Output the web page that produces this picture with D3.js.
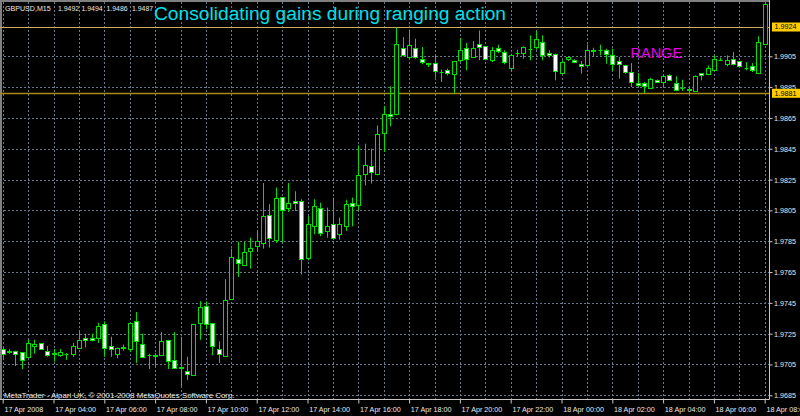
<!DOCTYPE html>
<html><head><meta charset="utf-8">
<script src="https://cdn.jsdelivr.net/npm/d3@7/dist/d3.min.js"></script>
<style>body{margin:0;background:#000;overflow:hidden}svg{display:block}</style>
</head><body>
<svg id="c" width="800" height="416"></svg>
<script>
// M15 bars, 17 Apr 2008 02:00 .. 18 Apr 2008 08:00
const opens=[1.97151,1.97140,1.97140,1.97130,1.97100,1.97170,1.97190,1.97140,1.97120,1.97110,1.97120,1.97120,1.97160,1.97225,1.97225,1.97225,1.97310,1.97170,1.97120,1.97160,1.97150,1.97330,1.97180,1.97110,1.97110,1.97110,1.97210,1.97080,1.97030,1.97010,1.96980,1.97320,1.97430,1.97320,1.97150,1.97108,1.97478,1.97737,1.97694,1.97787,1.97819,1.97839,1.98020,1.97860,1.98137,1.98068,1.98111,1.98109,1.97744,1.97947,1.98068,1.97917,1.97960,1.97895,1.97947,1.98100,1.98085,1.98284,1.98336,1.98288,1.98553,1.98678,1.98678,1.99104,1.99045,1.99104,1.99034,1.99006,1.99006,1.98948,1.98959,1.98937,1.99024,1.99104,1.99045,1.99127,1.99114,1.99024,1.99104,1.99078,1.98974,1.99071,1.99071,1.99100,1.99110,1.99143,1.99071,1.99067,1.98941,1.99030,1.99028,1.98998,1.98991,1.99089,1.99090,1.99089,1.99056,1.99017,1.98995,1.98948,1.98877,1.98877,1.98846,1.98898,1.98883,1.98926,1.98877,1.98846,1.98835,1.98825,1.98941,1.98937,1.98963,1.99028,1.99002,1.99034,1.99017,1.98976,1.98985,1.98941,1.99132];
const highs=[1.97164,1.97150,1.97140,1.97130,1.97210,1.97210,1.97190,1.97170,1.97150,1.97150,1.97125,1.97190,1.97270,1.97250,1.97250,1.97320,1.97330,1.97230,1.97160,1.97180,1.97320,1.97390,1.97250,1.97120,1.97125,1.97260,1.97210,1.97260,1.97230,1.97100,1.97310,1.97460,1.97460,1.97320,1.97200,1.97603,1.97802,1.97845,1.97845,1.97873,1.97921,1.98228,1.98090,1.98198,1.98137,1.98228,1.98174,1.98122,1.98012,1.98122,1.98100,1.98068,1.98133,1.98003,1.98120,1.98133,1.98472,1.98483,1.98451,1.98602,1.98728,1.98855,1.99236,1.99175,1.99223,1.99164,1.99110,1.99006,1.99056,1.98963,1.98970,1.99017,1.99169,1.99136,1.99149,1.99218,1.99114,1.99110,1.99125,1.99089,1.99067,1.99093,1.99114,1.99186,1.99214,1.99186,1.99089,1.99067,1.99024,1.99045,1.99030,1.99019,1.99127,1.99106,1.99125,1.99099,1.99099,1.99045,1.98995,1.99006,1.98941,1.98883,1.98911,1.98900,1.98933,1.98933,1.98920,1.98898,1.98846,1.98926,1.98941,1.98991,1.99056,1.99041,1.99056,1.99078,1.99017,1.99013,1.99006,1.99180,1.99391];
const lows=[1.97078,1.97120,1.97040,1.97020,1.97100,1.97120,1.97150,1.97100,1.97070,1.97100,1.97080,1.97100,1.97160,1.97160,1.97200,1.97190,1.97100,1.97100,1.97090,1.97140,1.97130,1.97060,1.97100,1.97020,1.97040,1.97110,1.97020,1.97020,1.96910,1.96950,1.96980,1.97210,1.97280,1.97110,1.97060,1.97108,1.97478,1.97618,1.97690,1.97672,1.97780,1.97802,1.97808,1.97839,1.97839,1.98040,1.98046,1.97635,1.97726,1.97895,1.97882,1.97873,1.97873,1.97860,1.97917,1.97947,1.98051,1.98213,1.98224,1.98278,1.98429,1.98596,1.98667,1.99050,1.99041,1.99034,1.98998,1.98980,1.98911,1.98883,1.98926,1.98812,1.99013,1.98959,1.99041,1.99024,1.99024,1.99013,1.99071,1.98998,1.98948,1.99050,1.99034,1.99024,1.99093,1.99024,1.99041,1.98894,1.98937,1.99020,1.99010,1.98937,1.98985,1.99050,1.99056,1.99002,1.98954,1.98905,1.98937,1.98851,1.98855,1.98812,1.98840,1.98880,1.98851,1.98890,1.98825,1.98825,1.98803,1.98825,1.98894,1.98933,1.98959,1.99024,1.98985,1.98991,1.98980,1.98959,1.98948,1.98941,1.99127];
const closes=[1.97121,1.97130,1.97120,1.97080,1.97190,1.97180,1.97150,1.97110,1.97125,1.97130,1.97120,1.97170,1.97210,1.97210,1.97210,1.97300,1.97160,1.97150,1.97160,1.97162,1.97320,1.97200,1.97100,1.97110,1.97105,1.97200,1.97070,1.97030,1.97035,1.96990,1.97310,1.97420,1.97310,1.97170,1.97120,1.97471,1.97748,1.97709,1.97780,1.97808,1.97852,1.98012,1.97871,1.98129,1.98055,1.98100,1.98098,1.97737,1.97960,1.98079,1.97904,1.97947,1.97873,1.97960,1.98090,1.98077,1.98279,1.98347,1.98299,1.98548,1.98678,1.98665,1.99127,1.99056,1.99125,1.99045,1.99013,1.98998,1.98954,1.98946,1.98941,1.99017,1.99093,1.99034,1.99104,1.99110,1.99034,1.99093,1.99084,1.99013,1.99056,1.99070,1.99110,1.99099,1.99164,1.99056,1.99056,1.98954,1.99013,1.99045,1.99013,1.98985,1.99093,1.99084,1.99089,1.99063,1.99002,1.99002,1.98948,1.98883,1.98861,1.98855,1.98905,1.98885,1.98920,1.98894,1.98833,1.98843,1.98833,1.98920,1.98926,1.98976,1.99034,1.99028,1.99028,1.99002,1.98985,1.98974,1.98963,1.99143,1.99387];
const timeLabels=["17 Apr 2008","17 Apr 04:00","17 Apr 06:00","17 Apr 08:00","17 Apr 10:00","17 Apr 12:00","17 Apr 14:00","17 Apr 16:00","17 Apr 18:00","17 Apr 20:00","17 Apr 22:00","18 Apr 00:00","18 Apr 02:00","18 Apr 04:00","18 Apr 06:00","18 Apr 08:00"];
const timeLabelBars=[0,8,16,24,32,40,48,56,64,72,80,88,96,104,112,120];
const priceTicks=[1.9685,1.9705,1.9725,1.9745,1.9765,1.9785,1.9805,1.9825,1.9845,1.9865,1.9885,1.9905];
const levelLines=[1.9924,1.9881];
const headerTexts=["GBPUSD,M15","1.9492","1.9494","1.9486","1.9487"];
const titleText="Consolidating gains during ranging action";
const rangeText="RANGE";
const footerText="MetaTrader - Alpari UK, \u00a9 2001-2008 MetaQuotes Software Corp.";

const svg=d3.select("#c");
const W=800,H=416, plotR=769.5, plotB=399.5;
const x=d3.scaleLinear().domain([0,120]).range([2.7,764.7]);
const y=d3.scaleLinear().domain([1.9685,1.9905]).range([395.3,56.3]);
const gridColor="#687888";
const green="#00e000";
const font="'Liberation Sans', Arial, sans-serif";
const small="7.2px";

svg.append("rect").attr("width",W).attr("height",H).attr("fill","#000");

// grid
const bars=d3.range(opens.length);
const g=svg.append("g");
g.selectAll("line.v").data(bars.filter(i=>i%4===0)).join("line")
  .attr("x1",i=>Math.round(x(i))+0.5).attr("x2",i=>Math.round(x(i))+0.5)
  .attr("y1",2).attr("y2",plotB).attr("stroke",gridColor).attr("stroke-dasharray","2,2");
g.selectAll("line.h").data(priceTicks).join("line")
  .attr("x1",0).attr("x2",plotR).attr("y1",d=>Math.round(y(d))+0.5).attr("y2",d=>Math.round(y(d))+0.5)
  .attr("stroke",gridColor).attr("stroke-dasharray","2,2");

// frame
svg.append("line").attr("x1",0).attr("x2",plotR).attr("y1",1).attr("y2",1).attr("stroke","#808080").attr("stroke-width",2);
svg.append("line").attr("x1",1).attr("x2",1).attr("y1",0).attr("y2",plotB).attr("stroke","#808080").attr("stroke-width",2);

// level lines
svg.append("line").attr("x1",0).attr("x2",plotR).attr("y1",Math.round(y(levelLines[0]))+0.5).attr("y2",Math.round(y(levelLines[0]))+0.5)
  .attr("stroke","#c8b060").attr("stroke-width",1);
svg.append("line").attr("x1",0).attr("x2",plotR).attr("y1",Math.round(y(levelLines[1]))+0.5).attr("y2",Math.round(y(levelLines[1]))+0.5)
  .attr("stroke","#a88a10").attr("stroke-width",1.6);

// candles
const cg=svg.append("g");
bars.forEach(i=>{
  const cx=Math.round(x(i))+0.5;
  const o=opens[i],c=closes[i];
  cg.append("line").attr("x1",cx).attr("x2",cx).attr("y1",y(highs[i])).attr("y2",y(lows[i]))
    .attr("stroke",green).attr("stroke-width",1);
  const top=Math.round(y(Math.max(o,c)))+0.5, bot=Math.round(y(Math.min(o,c)))+0.5;
  if(bot-top<1){
    cg.append("line").attr("x1",cx-2).attr("x2",cx+2).attr("y1",top).attr("y2",top).attr("stroke",green);
  } else {
    cg.append("rect").attr("x",cx-2).attr("y",top).attr("width",4).attr("height",bot-top)
      .attr("fill",c>=o?"#000":"#fff").attr("stroke",green).attr("stroke-width",1);
  }
});

// axes lines
svg.append("line").attr("x1",plotR).attr("x2",plotR).attr("y1",0).attr("y2",plotB).attr("stroke","#c8c8c8");
svg.append("line").attr("x1",0).attr("x2",plotR).attr("y1",plotB).attr("y2",plotB).attr("stroke","#c8c8c8");

// right axis
const ya=svg.append("g").attr("transform",`translate(${plotR},0)`)
  .call(d3.axisRight(y).tickValues(priceTicks).tickSize(3).tickFormat(d3.format(".4f")));
ya.select(".domain").remove();
ya.selectAll(".tick line").attr("stroke","#c8c8c8");
ya.selectAll(".tick text").attr("fill","#e8e8e8").attr("x",4.5).attr("dy","0.34em")
  .style("font-family",font).style("font-size",small);

// bottom axis
const xa=svg.append("g").attr("transform",`translate(0,${plotB})`)
  .call(d3.axisBottom(x).tickValues(timeLabelBars).tickSize(4).tickFormat((d,i)=>timeLabels[i]));
xa.select(".domain").remove();
xa.selectAll(".tick line").attr("stroke","#c8c8c8");
xa.selectAll(".tick text").attr("fill","#e8e8e8").attr("text-anchor","start").attr("x",1.2).attr("y",12.5).attr("dy",0)
  .style("font-family",font).style("font-size",small);

// level labels
levelLines.forEach(v=>{
  const yy=y(v);
  svg.append("rect").attr("x",772).attr("y",yy-4.5).attr("width",28).attr("height",9).attr("fill","#ffcc00");
  svg.append("text").attr("x",774.5).attr("y",yy).attr("dy","0.34em").attr("fill","#000")
    .style("font-family",font).style("font-size",small).text(d3.format(".4f")(v));
});

// header
const hx=[5,58,81.5,106.5,132];
headerTexts.forEach((t,i)=>{
  svg.append("text").attr("x",hx[i]).attr("y",10.5).attr("fill","#e8e8e8")
    .style("font-family",font).style("font-size",i===0?"7.1px":"6.9px").text(t);
});
svg.append("text").attr("x",154).attr("y",20).attr("fill","#00e0e8")
  .style("font-family",font).style("font-size","19.2px").text(titleText);
svg.append("text").attr("x",630.5).attr("y",58.3).attr("fill","#e600e6")
  .style("font-family",font).style("font-size","14.5px").text(rangeText);
svg.append("text").attr("x",4).attr("y",397.5).attr("fill","#e8e8e8")
  .style("font-family",font).style("font-size","7.9px").text(footerText);
</script>
</body></html>
